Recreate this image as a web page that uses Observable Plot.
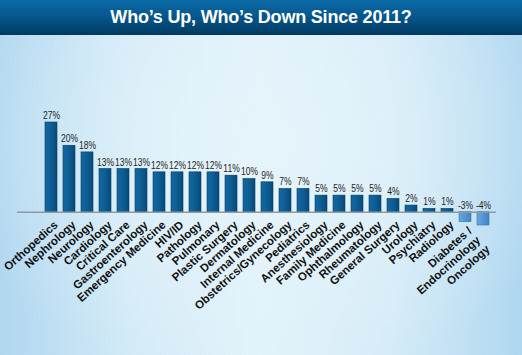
<!DOCTYPE html>
<html>
<head>
<meta charset="utf-8">
<script src="https://cdn.jsdelivr.net/npm/d3@7"></script>
<script src="https://cdn.jsdelivr.net/npm/@observablehq/plot@0.6"></script>
<style>
  html, body { margin: 0; padding: 0; }
  #chart {
    width: 522px; height: 355px; overflow: hidden; position: relative;
    background:
      radial-gradient(ellipse 60% 70% at 50% 40%, rgba(230,244,251,0.9), rgba(230,244,251,0) 100%),
      linear-gradient(90deg, #b0d7f0 0%, #d2eaf7 25%, #e2f2fa 50%, #d4ebf7 75%, #b0d7f0 100%);
    font-family: "Liberation Sans", Arial, sans-serif;
  }
  #title {
    height: 35px; line-height: 35px; text-align: center; color: #fff;
    font-weight: bold; font-size: 18px; letter-spacing: -0.2px;
    background: linear-gradient(180deg, #0b6ba8 0%, #05558a 50%, #003a5f 100%);
  }
  #plot svg { display: block; background: transparent; }
</style>
</head>
<body>
<div id="chart">
  <div id="title">Who’s Up, Who’s Down Since 2011?</div>
  <div id="plot"></div>
</div>
<script>
const categories = ["Orthopedics","Nephrology","Neurology","Cardiology","Critical Care","Gastroenterology","Emergency Medicine","HIV/ID","Pathology","Pulmonary","Plastic Surgery","Dermatology","Internal Medicine","Obstetrics/Gynecology","Pediatrics","Anesthesiology","Family Medicine","Ophthalmology","Rheumatology","General Surgery","Urology","Psychiatry","Radiology","Diabetes /\nEndocrinology","Oncology"];
const values = [27,20,18,13,13,13,12,12,12,12,11,10,9,7,7,5,5,5,5,4,2,1,1,-3,-4];
const valueLabels = values.map(v => v + "%");

const data = categories.map((c, i) => ({cat: c, v: values[i], label: valueLabels[i]}));
const lastCat = categories[categories.length - 1];

const catStyle = {text: "cat", rotate: -42, textAnchor: "end", lineAnchor: "top", fontSize: 11.5, fontWeight: "bold", fill: "#111", lineHeight: 1.1, className: "cats"};

const plot = Plot.plot({
  width: 522,
  height: 320,
  marginLeft: 39,
  marginRight: 26,
  marginTop: 87,
  marginBottom: 130,
  style: {background: "transparent", fontFamily: "'Liberation Sans', Arial, sans-serif"},
  x: {domain: categories, paddingInner: 0.32, paddingOuter: 0.16, axis: null},
  y: {domain: [-4, 27], axis: null},
  marks: [
    Plot.barY(data.filter(d => d.v >= 0), {x: "cat", y: "v", fill: "#0d5f95", stroke: "#073f66", strokeWidth: 0.6, className: "posbars"}),
    Plot.barY(data.filter(d => d.v < 0), {x: "cat", y: "v", fill: "#4f93cf", stroke: "#3674ae", strokeWidth: 0.6, className: "negbars"}),
    Plot.ruleY([0], {stroke: "#8c9aa4", strokeWidth: 1.5, insetLeft: -22}),
    Plot.text(data, {x: "cat", y: d => Math.max(d.v, 0), text: "label", dy: -3.5, lineAnchor: "bottom", fontSize: 11.5, fill: "#1e1e1e", className: "vals"}),
    Plot.text(data.filter(d => d.v >= 0), {x: "cat", y: () => 0, dx: 1, dy: 7, ...catStyle}),
    Plot.text(data.filter(d => d.v < 0 && d.cat !== lastCat), {x: "cat", y: "v", dx: 1, dy: 3, ...catStyle}),
    Plot.text(data.filter(d => d.cat === lastCat), {x: "cat", y: "v", dx: 1, dy: 18, ...catStyle})
  ]
});

// gradients for bar fills
const ns = "http://www.w3.org/2000/svg";
const defs = document.createElementNS(ns, "defs");
defs.innerHTML = `
  <linearGradient id="gPos" x1="0" x2="1" y1="0" y2="0">
    <stop offset="0%" stop-color="#1266a0"/>
    <stop offset="45%" stop-color="#0e5f96"/>
    <stop offset="100%" stop-color="#074a7a"/>
  </linearGradient>
  <linearGradient id="gNeg" x1="0" x2="1" y1="0" y2="0">
    <stop offset="0%" stop-color="#6aa8de"/>
    <stop offset="100%" stop-color="#3f85c5"/>
  </linearGradient>`;
plot.insertBefore(defs, plot.firstChild);
plot.querySelectorAll(".posbars").forEach(g => g.setAttribute("fill", "url(#gPos)"));
plot.querySelectorAll(".negbars").forEach(g => g.setAttribute("fill", "url(#gNeg)"));
// condensed look for the value labels: squeeze horizontally around each anchor
plot.querySelectorAll(".vals text").forEach(t => {
  const tr = t.getAttribute("transform") || "";
  t.setAttribute("transform", tr + " scale(0.74,1)");
});

document.getElementById("plot").appendChild(plot);
</script>
</body>
</html>
